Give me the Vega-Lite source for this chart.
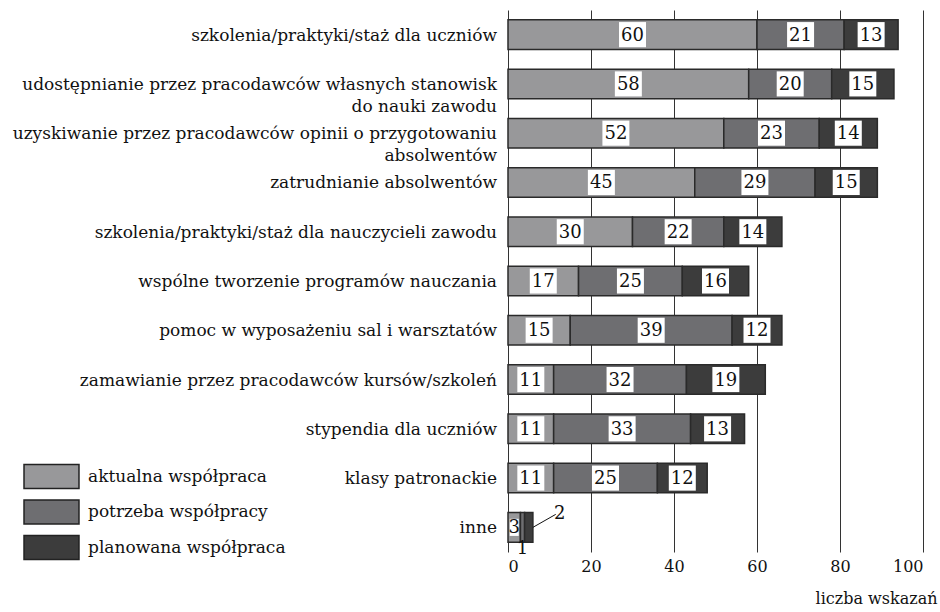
{
  "$schema": "https://vega.github.io/schema/vega-lite/v6.json",
  "width": 415,
  "height": 542,
  "autosize": {"type": "none"},
  "padding": {"left": 508, "top": 10, "right": 17, "bottom": 60},
  "background": "white",
  "config": {"view": {"stroke": null}, "font": "DejaVu Serif", "text": {"font": "DejaVu Serif"}, "axis": {"labelFont": "DejaVu Serif", "titleFont": "DejaVu Serif"}, "legend": {"labelFont": "DejaVu Serif"}},
  "data": {
    "values": [
      {"cat": "szkolenia/praktyki/staż dla uczniów", "rank": 1, "type": "aktualna współpraca", "t": 1, "value": 60},
      {"cat": "szkolenia/praktyki/staż dla uczniów", "rank": 1, "type": "potrzeba współpracy", "t": 2, "value": 21},
      {"cat": "szkolenia/praktyki/staż dla uczniów", "rank": 1, "type": "planowana współpraca", "t": 3, "value": 13},
      {"cat": "udostępnianie przez pracodawców własnych stanowisk\ndo nauki zawodu", "rank": 2, "type": "aktualna współpraca", "t": 1, "value": 58},
      {"cat": "udostępnianie przez pracodawców własnych stanowisk\ndo nauki zawodu", "rank": 2, "type": "potrzeba współpracy", "t": 2, "value": 20},
      {"cat": "udostępnianie przez pracodawców własnych stanowisk\ndo nauki zawodu", "rank": 2, "type": "planowana współpraca", "t": 3, "value": 15},
      {"cat": "uzyskiwanie przez pracodawców opinii o przygotowaniu\nabsolwentów", "rank": 3, "type": "aktualna współpraca", "t": 1, "value": 52},
      {"cat": "uzyskiwanie przez pracodawców opinii o przygotowaniu\nabsolwentów", "rank": 3, "type": "potrzeba współpracy", "t": 2, "value": 23},
      {"cat": "uzyskiwanie przez pracodawców opinii o przygotowaniu\nabsolwentów", "rank": 3, "type": "planowana współpraca", "t": 3, "value": 14},
      {"cat": "zatrudnianie absolwentów", "rank": 4, "type": "aktualna współpraca", "t": 1, "value": 45},
      {"cat": "zatrudnianie absolwentów", "rank": 4, "type": "potrzeba współpracy", "t": 2, "value": 29},
      {"cat": "zatrudnianie absolwentów", "rank": 4, "type": "planowana współpraca", "t": 3, "value": 15},
      {"cat": "szkolenia/praktyki/staż dla nauczycieli zawodu", "rank": 5, "type": "aktualna współpraca", "t": 1, "value": 30},
      {"cat": "szkolenia/praktyki/staż dla nauczycieli zawodu", "rank": 5, "type": "potrzeba współpracy", "t": 2, "value": 22},
      {"cat": "szkolenia/praktyki/staż dla nauczycieli zawodu", "rank": 5, "type": "planowana współpraca", "t": 3, "value": 14},
      {"cat": "wspólne tworzenie programów nauczania", "rank": 6, "type": "aktualna współpraca", "t": 1, "value": 17},
      {"cat": "wspólne tworzenie programów nauczania", "rank": 6, "type": "potrzeba współpracy", "t": 2, "value": 25},
      {"cat": "wspólne tworzenie programów nauczania", "rank": 6, "type": "planowana współpraca", "t": 3, "value": 16},
      {"cat": "pomoc w wyposażeniu sal i warsztatów", "rank": 7, "type": "aktualna współpraca", "t": 1, "value": 15},
      {"cat": "pomoc w wyposażeniu sal i warsztatów", "rank": 7, "type": "potrzeba współpracy", "t": 2, "value": 39},
      {"cat": "pomoc w wyposażeniu sal i warsztatów", "rank": 7, "type": "planowana współpraca", "t": 3, "value": 12},
      {"cat": "zamawianie przez pracodawców kursów/szkoleń", "rank": 8, "type": "aktualna współpraca", "t": 1, "value": 11},
      {"cat": "zamawianie przez pracodawców kursów/szkoleń", "rank": 8, "type": "potrzeba współpracy", "t": 2, "value": 32},
      {"cat": "zamawianie przez pracodawców kursów/szkoleń", "rank": 8, "type": "planowana współpraca", "t": 3, "value": 19},
      {"cat": "stypendia dla uczniów", "rank": 9, "type": "aktualna współpraca", "t": 1, "value": 11},
      {"cat": "stypendia dla uczniów", "rank": 9, "type": "potrzeba współpracy", "t": 2, "value": 33},
      {"cat": "stypendia dla uczniów", "rank": 9, "type": "planowana współpraca", "t": 3, "value": 13},
      {"cat": "klasy patronackie", "rank": 10, "type": "aktualna współpraca", "t": 1, "value": 11},
      {"cat": "klasy patronackie", "rank": 10, "type": "potrzeba współpracy", "t": 2, "value": 25},
      {"cat": "klasy patronackie", "rank": 10, "type": "planowana współpraca", "t": 3, "value": 12},
      {"cat": "inne", "rank": 11, "type": "aktualna współpraca", "t": 1, "value": 3},
      {"cat": "inne", "rank": 11, "type": "potrzeba współpracy", "t": 2, "value": 1},
      {"cat": "inne", "rank": 11, "type": "planowana współpraca", "t": 3, "value": 2}
    ]
  },
  "transform": [
    {"stack": "value", "groupby": ["cat"], "sort": [{"field": "t", "order": "ascending"}], "as": ["x0", "x1"]},
    {"calculate": "(datum.x0 + datum.x1) / 2", "as": "mid"}
  ],
  "encoding": {
    "y": {"field": "cat", "type": "nominal", "sort": {"field": "rank", "op": "min"}, "axis": null, "scale": {"paddingInner": 0.4, "paddingOuter": 0.2}}
  },
  "layer": [
    {
      "mark": {"type": "bar", "stroke": "#2a2a2a", "strokeWidth": 1.5},
      "encoding": {
        "x": {"field": "x0", "type": "quantitative", "scale": {"domain": [0, 100], "nice": false},
          "axis": {"values": [0, 20, 40, 60, 80, 100], "grid": true, "gridColor": "#333", "gridOpacity": 1, "gridWidth": 1, "domain": false, "ticks": false,
            "labelFontSize": 16, "labelColor": "#111", "labelPadding": 6, "labelFont": "DejaVu Serif",
            "title": "liczba wskazań", "titleFontSize": 16, "titleFontWeight": "normal", "titleColor": "#111", "titleFont": "DejaVu Serif",
            "titleAnchor": "end", "titleAlign": "right", "titleX": 429, "titlePadding": 16}},
        "x2": {"field": "x1"},
        "color": {"field": "type", "type": "nominal",
          "scale": {"domain": ["aktualna współpraca", "potrzeba współpracy", "planowana współpraca"], "range": ["#98989a", "#6e6e71", "#3c3c3c"]},
          "legend": {"orient": "none", "legendX": -471, "legendY": 452, "title": null, "padding": 0,
            "symbolType": "M-2,-0.87H2V0.87H-2Z", "symbolSize": 756, "symbolStrokeColor": "#222", "symbolStrokeWidth": 1.5, "symbolOpacity": 1,
            "labelFontSize": 17, "labelFont": "DejaVu Serif", "labelColor": "#111", "labelOffset": 22, "labelLimit": 400, "rowPadding": 4.5}}
      }
    },
    {
      "transform": [{"filter": "datum.t == 1"}],
      "mark": {"type": "text", "align": "right", "baseline": "alphabetic", "dx": -11, "dy": 6, "fontSize": 17, "font": "DejaVu Serif", "lineBreak": "\n", "lineHeight": 22, "color": "#111"},
      "encoding": {"x": {"datum": 0, "type": "quantitative"}, "text": {"field": "cat"}}
    },
    {
      "transform": [{"filter": "datum.value >= 10"}],
      "mark": {"type": "point", "shape": "M-1,-0.93H1V0.93H-1Z", "filled": true, "color": "white", "opacity": 1, "size": 729, "strokeWidth": 0},
      "encoding": {"x": {"field": "mid", "type": "quantitative"}}
    },
    {
      "transform": [{"filter": "datum.cat == 'inne' && datum.t == 1"}],
      "mark": {"type": "point", "shape": "M-1,-1.9H1V1.9H-1Z", "filled": true, "color": "white", "opacity": 1, "size": 81, "strokeWidth": 0},
      "encoding": {"x": {"field": "mid", "type": "quantitative"}}
    },
    {
      "transform": [{"filter": "datum.cat != 'inne' || datum.t == 1"}],
      "mark": {"type": "text", "baseline": "middle", "dy": 1, "fontSize": 18, "font": "DejaVu Serif", "color": "#111"},
      "encoding": {"x": {"field": "mid", "type": "quantitative"}, "text": {"field": "value"}}
    },
    {
      "transform": [{"filter": "datum.cat == 'inne' && datum.t == 2"}],
      "mark": {"type": "text", "baseline": "middle", "dy": 22, "fontSize": 18, "font": "DejaVu Serif", "color": "#111"},
      "encoding": {"x": {"field": "mid", "type": "quantitative"}, "text": {"field": "value"}}
    },
    {
      "transform": [{"filter": "datum.cat == 'inne' && datum.t == 3"}],
      "mark": {"type": "text", "baseline": "middle", "dx": 31, "dy": -13, "fontSize": 18, "font": "DejaVu Serif", "color": "#111"},
      "encoding": {"x": {"field": "mid", "type": "quantitative"}, "text": {"field": "value"}}
    },
    {
      "transform": [{"filter": "datum.cat == 'inne' && datum.t == 3"}],
      "mark": {"type": "rule", "color": "#111", "strokeWidth": 1, "y2Offset": -13},
      "encoding": {"x": {"field": "x1", "type": "quantitative"}, "x2": {"datum": 11.5}, "y2": {"field": "cat"}}
    }
  ]
}
